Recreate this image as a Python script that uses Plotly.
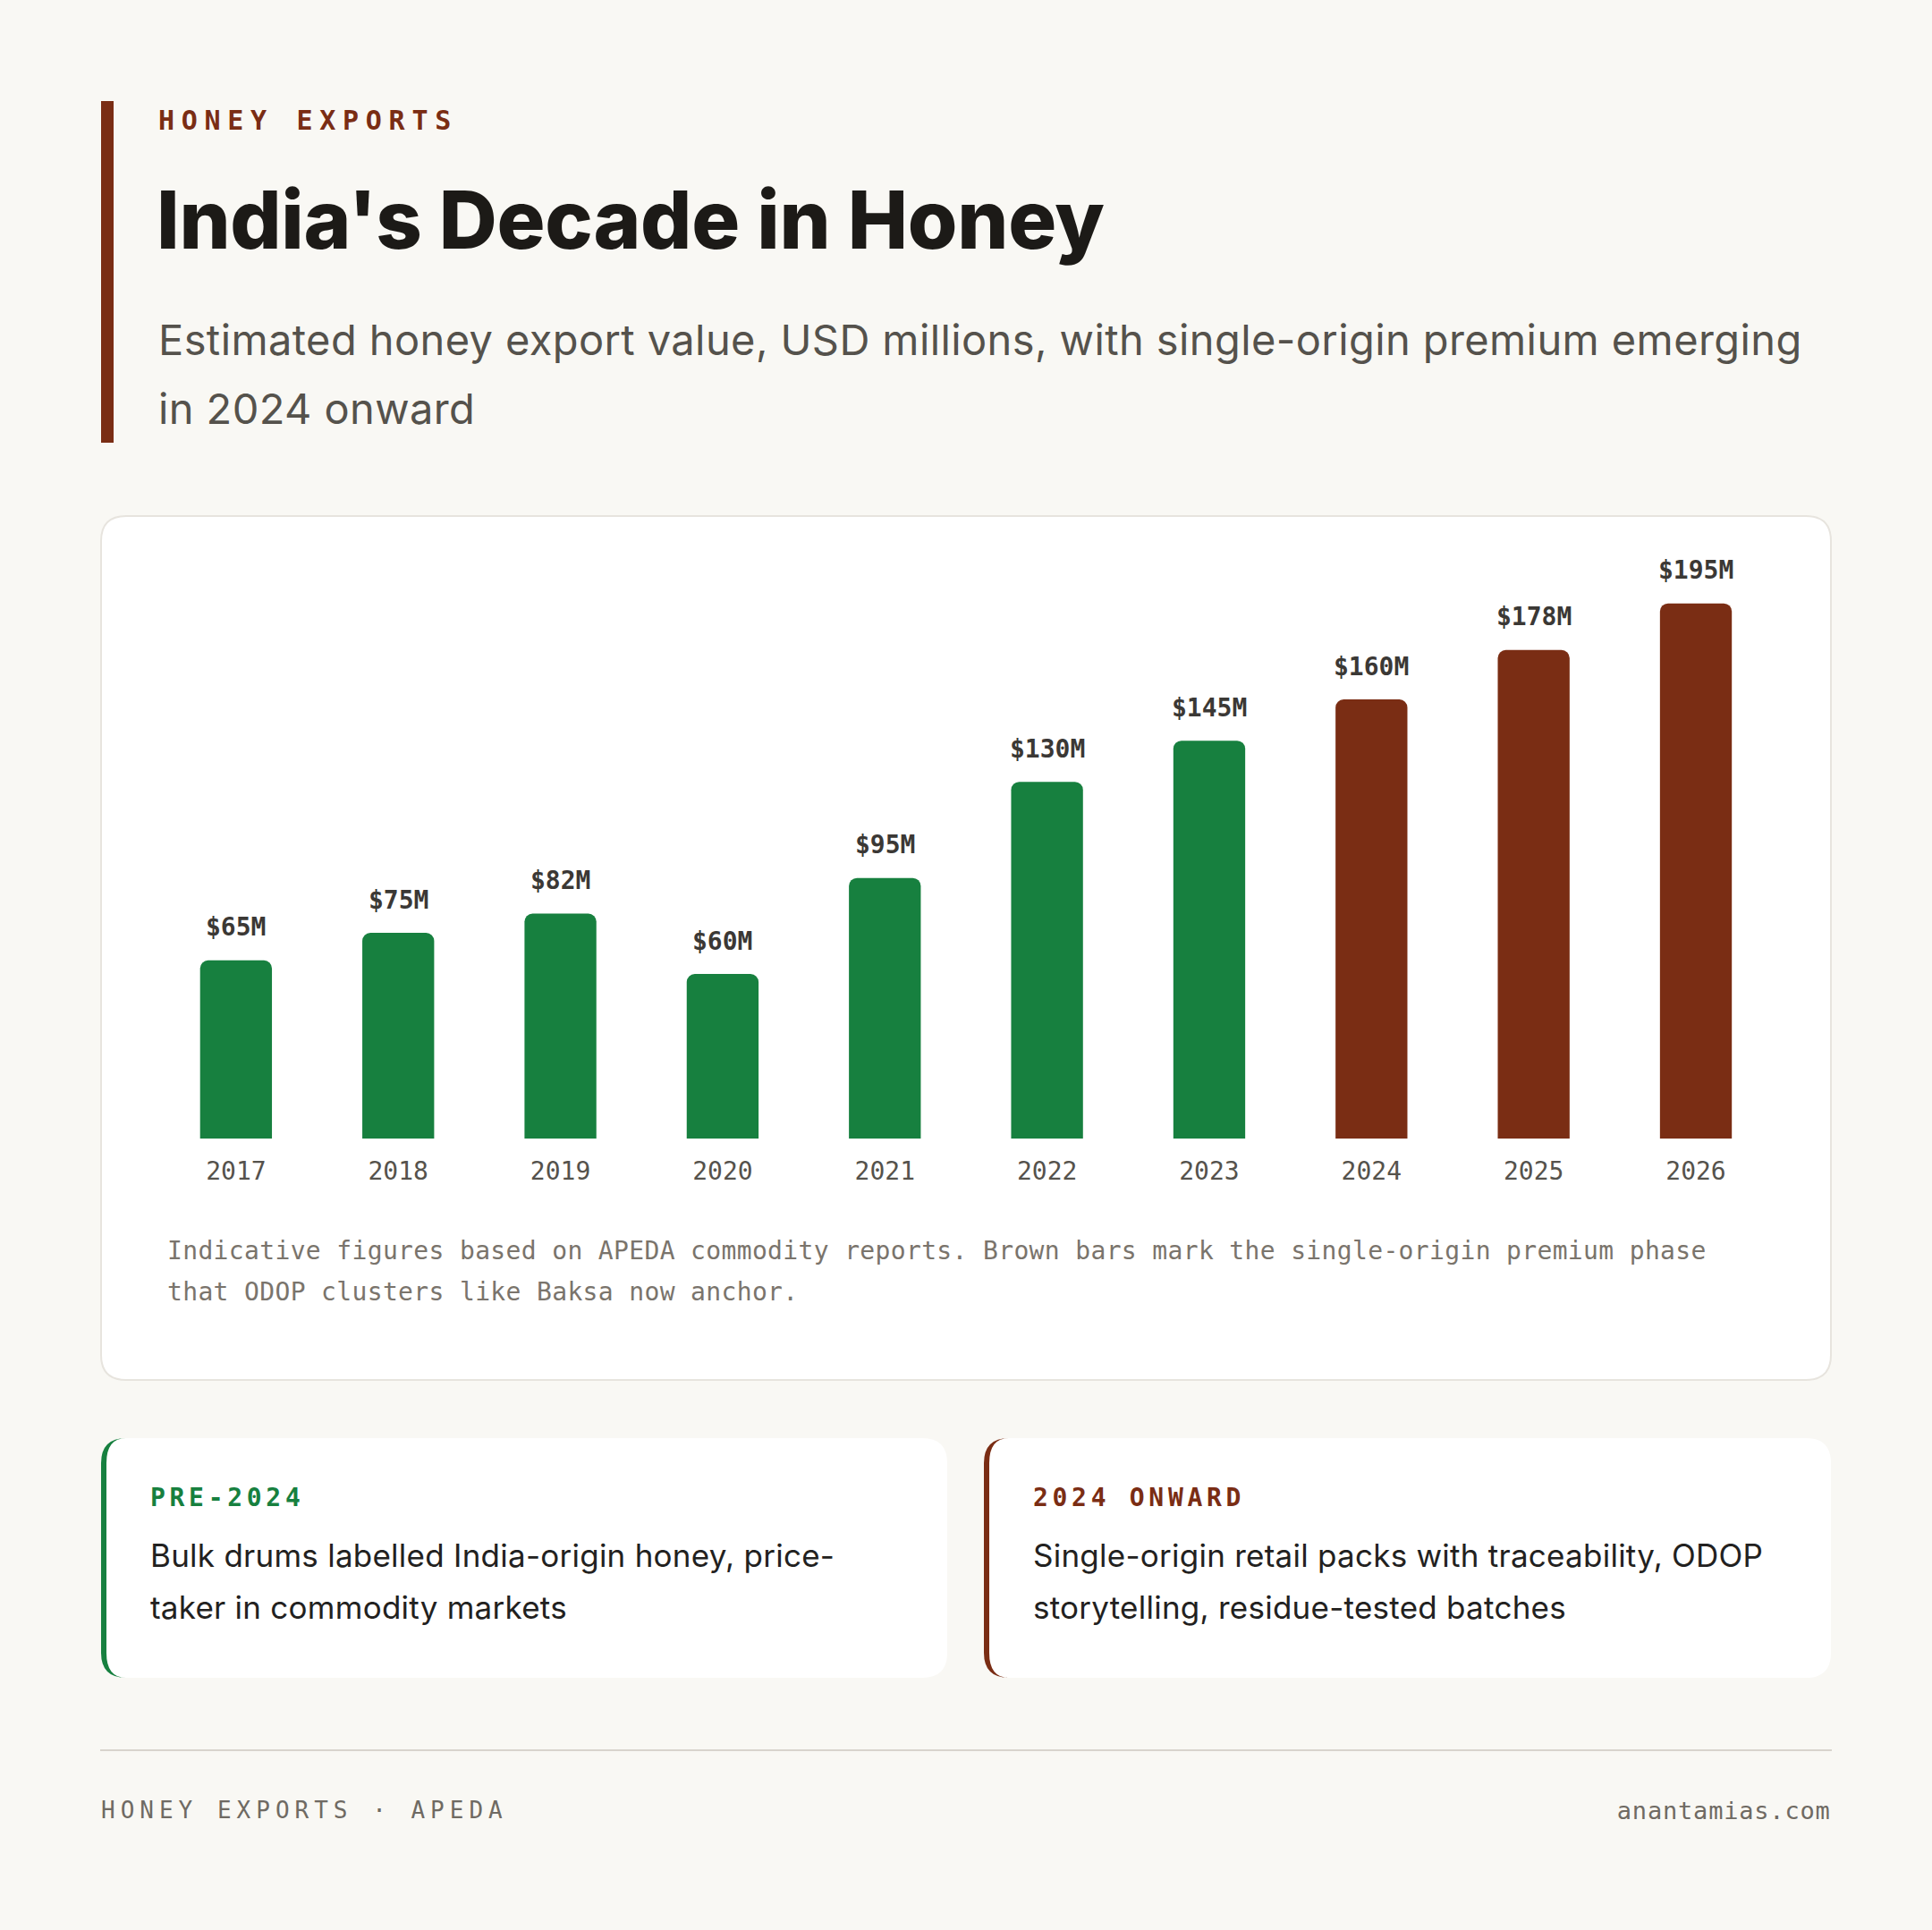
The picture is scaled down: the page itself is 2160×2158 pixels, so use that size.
import json
import plotly.graph_objects as go

W, H = 2160, 2158

# ---------------- data ----------------
years = ["2017", "2018", "2019", "2020", "2021", "2022", "2023", "2024", "2025", "2026"]
values = [65, 75, 82, 60, 95, 130, 145, 160, 178, 195]
premium_from = 2024

eyebrow = "HONEY EXPORTS"
title = "India's Decade in Honey"
subtitle_lines = [
    "Estimated honey export value, USD millions, with single-origin premium emerging",
    "in 2024 onward",
]
note_lines = [
    "Indicative figures based on APEDA commodity reports. Brown bars mark the single-origin premium phase",
    "that ODOP clusters like Baksa now anchor.",
]
card_labels = ["PRE-2024", "2024 ONWARD"]
card_texts = [
    ["Bulk drums labelled India-origin honey, price-", "taker in commodity markets"],
    ["Single-origin retail packs with traceability, ODOP", "storytelling, residue-tested batches"],
]
footer_left = "HONEY EXPORTS · APEDA"
footer_right = "anantamias.com"

# ---------------- style ----------------
BG = "#f9f8f4"
GREEN = "#17803f"
BROWN = "#7a2d14"
INK = "#1c1a17"
SUB = "#55524c"
MONO = "DejaVu Sans Mono"
SANS = "Inter"

bar_colors = [BROWN if int(y) >= premium_from else GREEN for y in years]
value_labels = [f"${v}M" for v in values]


def px(x):
    return x / W


def py(y):
    return 1 - y / H


def P(x, y):
    return f"{px(x):.5f},{py(y):.5f}"


def rrect(x0, y0, x1, y1, r):
    return (f"M{P(x0 + r, y0)} L{P(x1 - r, y0)} Q{P(x1, y0)} {P(x1, y0 + r)} "
            f"L{P(x1, y1 - r)} Q{P(x1, y1)} {P(x1 - r, y1)} L{P(x0 + r, y1)} "
            f"Q{P(x0, y1)} {P(x0, y1 - r)} L{P(x0, y0 + r)} Q{P(x0, y0)} {P(x0 + r, y0)} Z")


def crescent(x0, y0, y1, r, w):
    return (f"M{P(x0 + r, y0)} Q{P(x0, y0)} {P(x0, y0 + r)} L{P(x0, y1 - r)} "
            f"Q{P(x0, y1)} {P(x0 + r, y1)} Q{P(x0 + w, y1)} {P(x0 + w, y1 - r)} "
            f"L{P(x0 + w, y0 + r)} Q{P(x0 + w, y0)} {P(x0 + r, y0)} Z")


shapes = []
anns = []


def txt(x, y, text, size, color, family, weight="normal", anchor="left"):
    anns.append(dict(x=px(x), y=py(y), xref="paper", yref="paper", text=text,
                     showarrow=False, xanchor=anchor, yanchor="middle", align=anchor,
                     borderpad=0,
                     font=dict(size=size, color=color, family=family, weight=weight)))


# header
shapes.append(dict(type="rect", xref="paper", yref="paper", x0=px(113), x1=px(127),
                   y0=py(113), y1=py(495), fillcolor=BROWN, line=dict(width=0), layer="below"))
txt(176, 135, eyebrow, 30, BROWN, MONO, "bold")
txt(174, 245, title, 90, INK, SANS, 800)
txt(176, 379, subtitle_lines[0], 47, SUB, SANS)
txt(176, 456, subtitle_lines[1], 47, SUB, SANS)

# chart card
shapes.append(dict(type="path", xref="paper", yref="paper", path=rrect(113, 577, 2047, 1543, 28),
                   fillcolor="#ffffff", line=dict(color="#e7e4de", width=2), layer="below"))
txt(186, 1398, note_lines[0], 28, "#7a746c", MONO)
txt(186, 1444, note_lines[1], 28, "#7a746c", MONO)

# bottom cards
card_x = [(113, 1059), (1100, 2047)]
card_col = [GREEN, BROWN]
for i in range(2):
    x0, x1 = card_x[i]
    shapes.append(dict(type="path", xref="paper", yref="paper", path=rrect(x0, 1608, x1, 1876, 28),
                       fillcolor="#ffffff", line=dict(width=0), layer="below"))
    shapes.append(dict(type="path", xref="paper", yref="paper", path=crescent(x0, 1608, 1876, 28, 6),
                       fillcolor=card_col[i], line=dict(width=0), layer="below"))
    tx = x0 + 54
    txt(tx, 1674, card_labels[i], 28, card_col[i], MONO, "bold")
    txt(tx, 1739, card_texts[i][0], 35, "#222120", SANS)
    txt(tx, 1797, card_texts[i][1], 35, "#222120", SANS)

# footer
shapes.append(dict(type="line", xref="paper", yref="paper", x0=px(112), x1=px(2048),
                   y0=py(1957), y1=py(1957), line=dict(color="#d8d4cd", width=2)))
txt(112, 2024, footer_left, 26, "#6f6a63", MONO)
txt(2048, 2024, footer_right, 27, "#6f6a63", MONO, anchor="right")

# bar value labels (x as category index)
for i, (v, lab) in enumerate(zip(values, value_labels)):
    anns.append(dict(x=i, y=v, xref="x", yref="y", text=lab, showarrow=False,
                     xanchor="center", yanchor="middle", yshift=37,
                     font=dict(size=28, color="#3b3835", family=MONO, weight="bold")))

fig = go.Figure(go.Bar(
    x=years, y=values, marker=dict(color=bar_colors, line=dict(width=0), cornerradius=9),
    hoverinfo="skip",
))

fig.update_layout(
    width=W, height=H, margin=dict(l=0, r=0, t=0, b=0, pad=0, autoexpand=False),
    paper_bgcolor=BG, plot_bgcolor="rgba(0,0,0,0)",
    bargap=0.557, showlegend=False,
    shapes=shapes, annotations=anns,
    xaxis=dict(domain=[173.2 / W, 1986.7 / W], type="category", range=[-0.5, len(years) - 0.5],
               autorange=False, automargin=False,
               showgrid=False, zeroline=False,
               showline=False, ticks="outside", ticklen=0, ticklabelstandoff=11,
               tickfont=dict(family=MONO, size=28, color=SUB)),
    yaxis=dict(domain=[(H - 1273.3) / H, (H - 628.6) / H], range=[0, 210], autorange=False,
               automargin=False, visible=False),
)

spacing = {
    eyebrow: 7.7,
    title: -0.3,
    card_labels[0]: 4.7,
    card_labels[1]: 4.7,
    footer_left: 6,
    footer_right: 0.8,
    note_lines[0]: 0.35,
    note_lines[1]: 0.35,
    subtitle_lines[0]: 0.4,
    subtitle_lines[1]: 0.4,
    card_texts[0][0]: 0.25,
    card_texts[0][1]: 0.25,
    card_texts[1][0]: 0.25,
    card_texts[1][1]: 0.25,
}
post = ("document.body.style.margin = '0';"
        "document.documentElement.style.background = '" + BG + "';"
        "var ls = " + json.dumps(spacing) + ";"
        "document.querySelectorAll('text').forEach(function(t){"
        "var k = t.textContent; if (Object.prototype.hasOwnProperty.call(ls, k)) {"
        "t.style.letterSpacing = ls[k] + 'px'; }});")

fig.write_html("out.html", config={"displayModeBar": False}, post_script=post)
